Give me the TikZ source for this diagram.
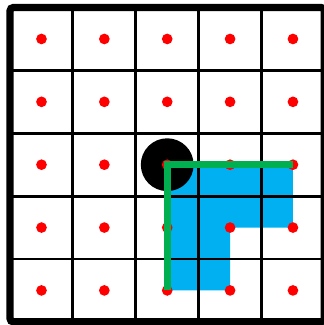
\documentclass[tikz,border=0pt]{standalone}
\usepackage{xcolor}
\usepackage{tikz}
\usetikzlibrary{calc}
\definecolor{cDot}{HTML}{FF0000}
\definecolor{cArea}{HTML}{00B0F0}
\definecolor{cPath}{HTML}{00B050}

\begin{document}
\begin{tikzpicture}[
  gridline/.style={line width=1.3pt, draw=black},
  border/.style={line width=3.3pt, draw=black, rounded corners=1.5pt},
  dot/.style={circle, fill=cDot, inner sep=0pt, minimum size=0.17cm},
  area/.style={fill=cArea},
  walk/.style={draw=cPath, line width=3.3pt, line join=miter},
  start/.style={circle, fill=black, inner sep=0pt, minimum size=0.84cm}
]
\useasboundingbox (-0.16,-0.05) rectangle (4.98,5.12);
% cell centres
\foreach \i in {0,...,4}
  \foreach \j in {0,...,4}
    \coordinate (c-\i-\j) at (\i+0.5,\j+0.5);

\fill[area] (c-2-2) -- (c-4-2) -- (c-4-1) -- (c-3-1) -- (c-3-0) -- (c-2-0) -- cycle;
\draw[gridline] (0,0) grid (5,5);
\draw[border] (0,0) rectangle (5,5);

\node[start] (s) at (c-2-2) {};
\foreach \i in {0,...,4}
  \foreach \j in {0,...,4}
    \node[dot] (d-\i-\j) at (c-\i-\j) {};

\draw[walk] (c-2-0) |- (c-4-2);
\end{tikzpicture}
\end{document}
